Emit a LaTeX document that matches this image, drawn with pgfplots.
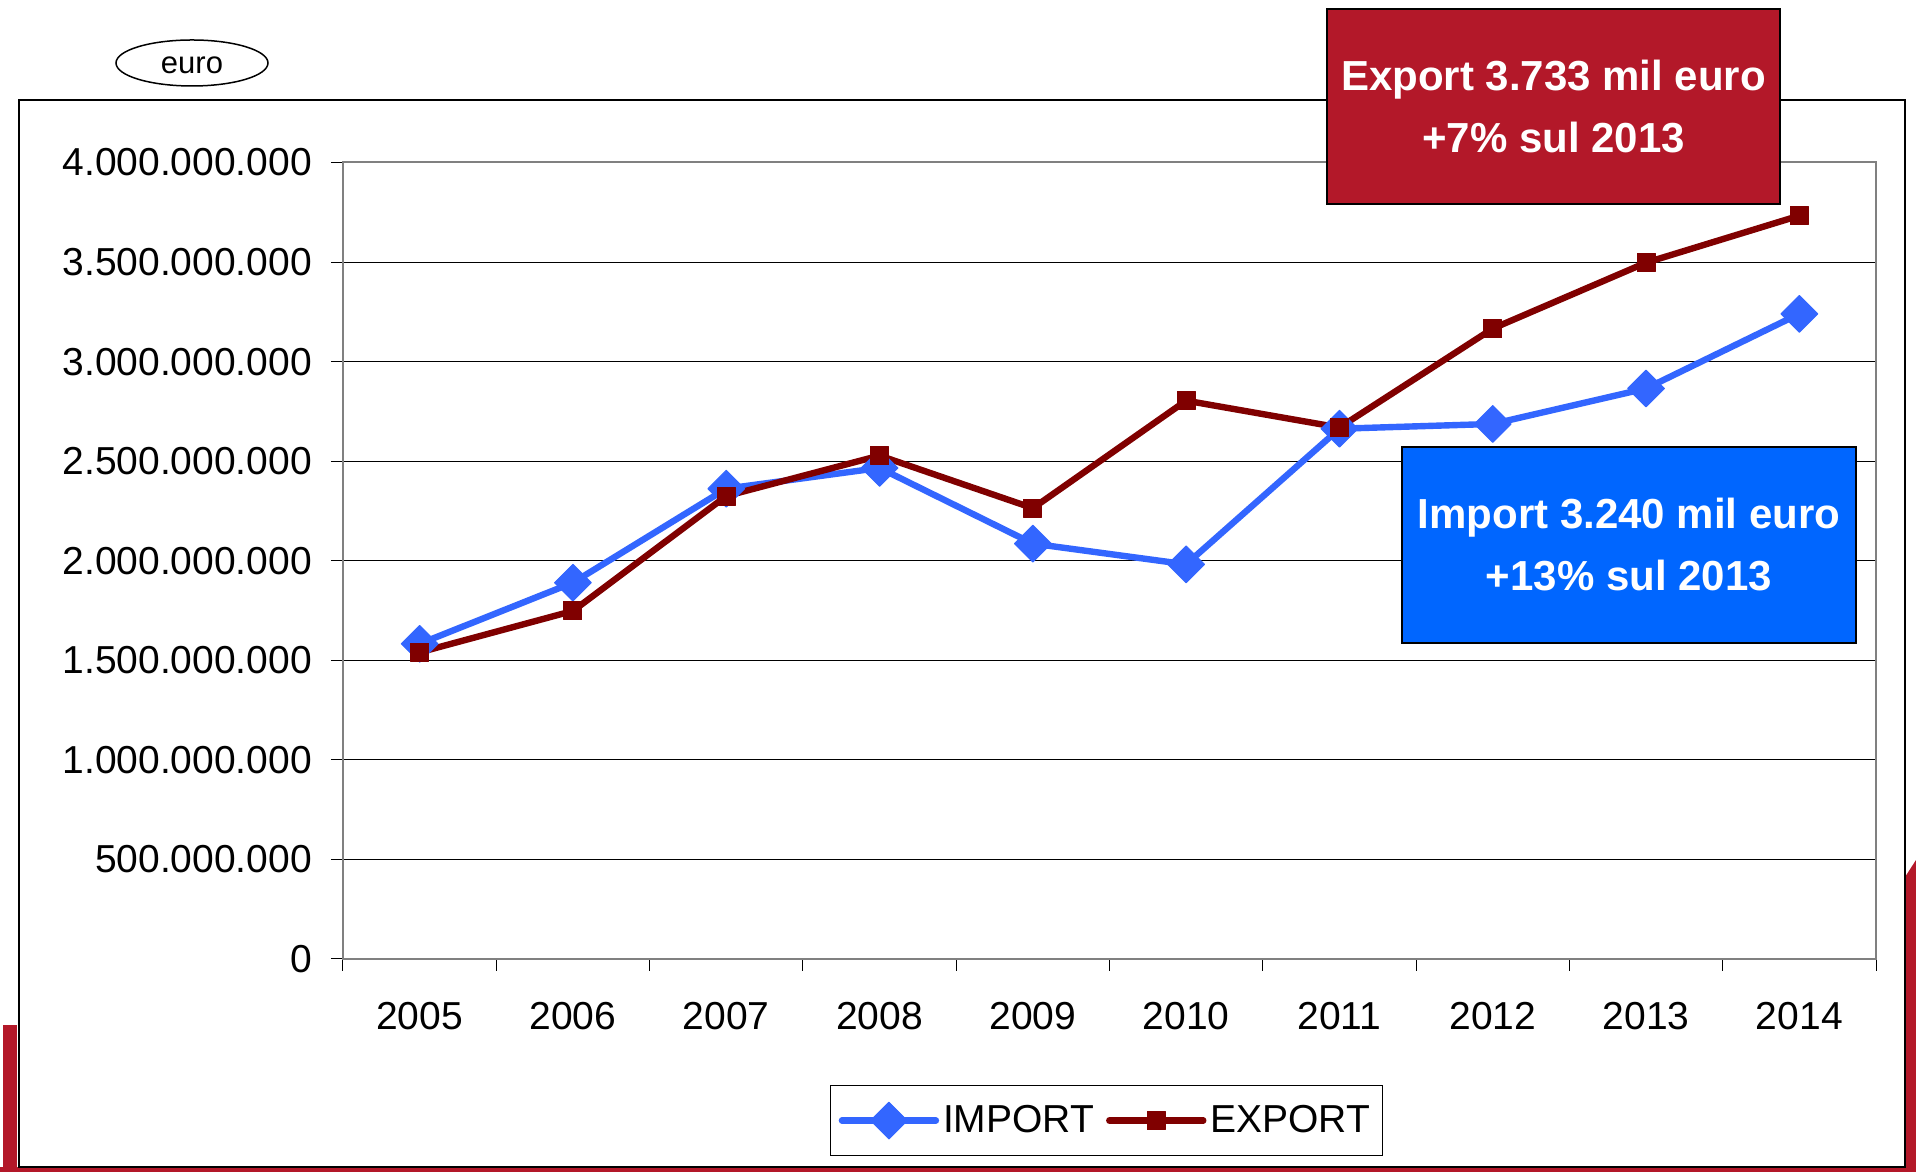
\documentclass[border=0pt]{standalone}
\usepackage{fontspec}
\setmainfont{Liberation Sans}
\usepackage{pgfplots}
\pgfplotsset{compat=1.18}
\definecolor{importline}{RGB}{51,102,255}
\definecolor{importbox}{RGB}{0,102,255}
\definecolor{exportline}{RGB}{128,0,0}
\definecolor{brandred}{RGB}{179,24,41}
\definecolor{axisgray}{RGB}{128,128,128}
\begin{document}
\begin{tikzpicture}[x=1pt,y=1pt]
\path[use as bounding box] (0,0) rectangle (958,586);
% red decorative strips
\fill[brandred] (1.5,0) rectangle (8.5,73.5);
\fill[brandred] (0,0) rectangle (958,2.5);
\fill[brandred] (952.5,0) -- (952.5,147.5) -- (958,156) -- (958,0) -- cycle;
% outer frame
\draw[black, line width=0.75pt, fill=white] (9.5,2.5) rectangle (952.5,536);
% euro label
\draw[black, line width=0.75pt] (96,554.5) ellipse (38 and 11.5);
\node[font=\fontsize{15.5}{18}\selectfont] at (96,553.5) {euro};
\begin{axis}[
  at={(171.5pt,106.5pt)}, anchor=south west,
  scale only axis, width=766.5pt, height=398.25pt,
  xmin=-0.5, xmax=9.5, ymin=0, ymax=4000000000,
  xtick={0,1,2,3,4,5,6,7,8,9},
  xticklabels={2005,2006,2007,2008,2009,2010,2011,2012,2013,2014},
  minor xtick={-0.5,0.5,1.5,2.5,3.5,4.5,5.5,6.5,7.5,8.5,9.5},
  ytick={0,500000000,1000000000,1500000000,2000000000,2500000000,3000000000,3500000000,4000000000},
  minor ytick={0,500000000,1000000000,1500000000,2000000000,2500000000,3000000000,3500000000,4000000000},
  yticklabels={0,500.000.000,1.000.000.000,1.500.000.000,2.000.000.000,2.500.000.000,3.000.000.000,3.500.000.000,4.000.000.000},
  scaled y ticks=false,
  tick pos=left, tick align=outside, major tick length=0pt, minor tick length=6pt,
  tick style={black, line width=0.5pt},
  ymajorgrids, major grid style={black, line width=0.5pt},
  axis line style={axisgray, line width=1pt},
  ticklabel style={font=\fontsize{19.5}{23}\selectfont},
  yticklabel style={xshift=-12pt},
  xticklabel style={yshift=-18pt},
  legend columns=2,
  legend style={at={(0.498,-0.2028)}, anchor=center, draw=black, line width=0.6pt,
    font=\fontsize{19.5}{23}\selectfont, inner xsep=4pt, inner ysep=8pt,
    /tikz/every even column/.append style={column sep=4pt}},
  legend image code/.code={\draw[mark repeat=2, mark phase=2, #1] plot coordinates {(0pt,0pt) (23.5pt,0pt) (47pt,0pt)};},
]
\addplot[importline, line width=3.2pt, line cap=round, line join=round,
  mark=square*, mark size=6.5pt, mark options={rotate=45, solid, fill=importline, draw=importline, line width=0.5pt}]
  coordinates {(0,1583000000) (1,1890000000) (2,2362000000) (3,2466000000) (4,2086000000)
               (5,1982000000) (6,2663000000) (7,2687000000) (8,2865000000) (9,3240000000)};
\addlegendentry{IMPORT}
\addplot[exportline, line width=3.2pt, line cap=round, line join=round,
  mark=square*, mark size=4.5pt, mark options={solid, fill=exportline, draw=exportline, line width=0.5pt}]
  coordinates {(0,1540000000) (1,1748000000) (2,2325000000) (3,2528000000) (4,2264000000)
               (5,2804000000) (6,2669000000) (7,3166000000) (8,3497000000) (9,3733000000)};
\addlegendentry{EXPORT}
\end{axis}
% annotation boxes
\node[fill=brandred, draw=black, line width=1pt, minimum width=226.5pt, minimum height=97.5pt,
  text=white, font=\bfseries\fontsize{21}{31}\selectfont, align=center, inner sep=0pt]
  at (776.75,532.75) {Export 3.733 mil euro\\+7\% sul 2013};
\node[fill=importbox, draw=black, line width=1pt, minimum width=227pt, minimum height=98pt,
  text=white, font=\bfseries\fontsize{21}{31}\selectfont, align=center, inner sep=0pt]
  at (814.5,313.5) {Import 3.240 mil euro\\+13\% sul 2013};
\end{tikzpicture}
\end{document}
